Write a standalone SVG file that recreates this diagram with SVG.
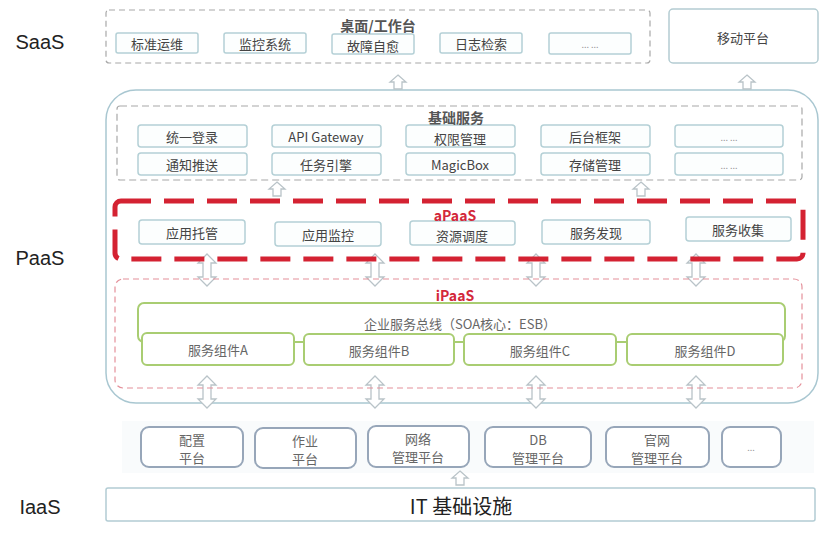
<svg xmlns="http://www.w3.org/2000/svg" xmlns:xlink="http://www.w3.org/1999/xlink" width="823" height="537" viewBox="0 0 823 537">
<style>
text{font-family:"Noto Sans CJK SC","Liberation Sans",sans-serif;dominant-baseline:central;text-anchor:middle}
.lay{font-family:"Liberation Sans","Noto Sans CJK SC",sans-serif;font-size:20px;fill:#222}
.lbl{font-size:13px;fill:#444}
.ttl{font-size:14px;font-weight:bold;fill:#555}
.red{font-size:14px;font-weight:bold;fill:#d3283a}
.bx{fill:#fcfefe;stroke:#b4d0d6;stroke-width:1.5}
.esb{fill:#fff;stroke:#a9cd72;stroke-width:2}
.plat{fill:#fff;stroke:#97a6b9;stroke-width:2}
.arr{fill:#fff;stroke:#b9c3c8;stroke-width:1.3}
.cmp{font-size:13px;fill:#666}
.dots{font-size:9px;fill:#999}
</style>
<defs>
<path id="up" d="M0,0 L8,7 L4,7 L4,14 L-4,14 L-4,7 L-8,7 Z"/>
<path id="dbl" d="M0,0 L9,9 L4,9 L4,23 L9,23 L0,32 L-9,23 L-4,23 L-4,9 L-9,9 Z"/>
</defs>
<rect width="823" height="537" fill="#fff"/>

<g id="layer-labels">
<text class="lay" x="40" y="42">SaaS</text>
<text class="lay" x="40" y="258">PaaS</text>
<text class="lay" x="40" y="507">IaaS</text>
</g>

<g id="paas-container">
<rect x="106" y="90" width="712" height="313" rx="30" fill="#fff" stroke="#a9c7d1" stroke-width="1.5"/>
</g>
<g id="platform-band">
<rect x="122" y="421" width="692" height="52" fill="#f9fbfc"/>
</g>

<g id="connectors" class="arr">
<use xlink:href="#up" x="398" y="75"/>
<use xlink:href="#up" x="747" y="75"/>
<use xlink:href="#up" x="277" y="182"/>
<use xlink:href="#up" x="641" y="182"/>
<use xlink:href="#dbl" x="207" y="254"/>
<use xlink:href="#dbl" x="375" y="254"/>
<use xlink:href="#dbl" x="536" y="254"/>
<use xlink:href="#dbl" x="696" y="254"/>
<use xlink:href="#dbl" x="207" y="376"/>
<use xlink:href="#dbl" x="375" y="376"/>
<use xlink:href="#dbl" x="536" y="376"/>
<use xlink:href="#dbl" x="696" y="376"/>
<use xlink:href="#up" x="460" y="471"/>
<g stroke="#a9cd72" stroke-width="2">
<line x1="294" y1="342" x2="304" y2="342"/>
<line x1="454" y1="342" x2="464" y2="342"/>
<line x1="616" y1="342" x2="627" y2="342"/>
</g>
</g>

<g id="saas">
<rect x="106" y="10" width="544" height="53" rx="3" fill="none" stroke="#a8a8a8" stroke-width="1.2" stroke-dasharray="6 4"/>
<g id="saas-1"><rect class="bx" x="116" y="33" width="82" height="20" rx="2"/><text class="lbl" x="157" y="43">标准运维</text></g>
<g id="saas-2"><rect class="bx" x="224" y="33" width="82" height="20" rx="2"/><text class="lbl" x="265" y="43">监控系统</text></g>
<g id="saas-3"><rect class="bx" x="332" y="34" width="82" height="20" rx="2"/><text class="lbl" x="373" y="45">故障自愈</text></g>
<g id="saas-4"><rect class="bx" x="440" y="33" width="82" height="20" rx="2"/><text class="lbl" x="481" y="43">日志检索</text></g>
<g id="saas-5"><rect class="bx" x="549" y="33" width="82" height="21" rx="2"/><text class="dots" x="590" y="44">... ...</text></g>
<text class="ttl" x="378" y="25">桌面/工作台</text>
</g>

<g id="mobile">
<rect x="669" y="9" width="149" height="54" rx="4" fill="#fff" stroke="#b4ccd2" stroke-width="1.5"/>
<text class="lbl" x="743" y="37">移动平台</text>
</g>

<g id="base-services">
<rect x="117" y="106" width="685" height="74" rx="3" fill="none" stroke="#a8a8a8" stroke-width="1.2" stroke-dasharray="7 4"/>
<g id="bs-1"><rect class="bx" x="138" y="125" width="109" height="22" rx="3"/><text class="lbl" x="192" y="136">统一登录</text></g>
<g id="bs-2"><rect class="bx" x="272" y="125" width="109" height="22" rx="3"/><text class="lbl" x="326" y="136">API Gateway</text></g>
<g id="bs-3"><rect class="bx" x="406" y="125" width="109" height="22" rx="3"/><text class="lbl" x="460" y="138">权限管理</text></g>
<g id="bs-4"><rect class="bx" x="541" y="125" width="109" height="22" rx="3"/><text class="lbl" x="595" y="136">后台框架</text></g>
<g id="bs-5"><rect class="bx" x="675" y="125" width="108" height="22" rx="3"/><text class="dots" x="729" y="137">... ...</text></g>
<g id="bs-6"><rect class="bx" x="138" y="153" width="109" height="22" rx="3"/><text class="lbl" x="192" y="164">通知推送</text></g>
<g id="bs-7"><rect class="bx" x="272" y="153" width="109" height="22" rx="3"/><text class="lbl" x="326" y="164">任务引擎</text></g>
<g id="bs-8"><rect class="bx" x="406" y="153" width="109" height="22" rx="3"/><text class="lbl" x="460" y="164">MagicBox</text></g>
<g id="bs-9"><rect class="bx" x="541" y="153" width="109" height="22" rx="3"/><text class="lbl" x="595" y="164">存储管理</text></g>
<g id="bs-10"><rect class="bx" x="675" y="153" width="108" height="22" rx="3"/><text class="dots" x="729" y="165">... ...</text></g>
<text class="ttl" x="456" y="117">基础服务</text>
</g>

<g id="apaas">
<g id="ap-1"><rect class="bx" x="139" y="220" width="106" height="24" rx="3"/><text class="lbl" x="192" y="232">应用托管</text></g>
<g id="ap-2"><rect class="bx" x="275" y="222" width="106" height="24" rx="3"/><text class="lbl" x="328" y="234">应用监控</text></g>
<g id="ap-3"><rect class="bx" x="410" y="221" width="105" height="24" rx="3"/><text class="lbl" x="462" y="235">资源调度</text></g>
<g id="ap-4"><rect class="bx" x="542" y="220" width="108" height="24" rx="3"/><text class="lbl" x="596" y="232">服务发现</text></g>
<g id="ap-5"><rect class="bx" x="686" y="217" width="105" height="24" rx="3"/><text class="lbl" x="738" y="229">服务收集</text></g>
<rect x="115" y="201" width="688" height="58" rx="6" fill="none" stroke="#d42232" stroke-width="5" stroke-dasharray="30 13"/>
<text class="red" x="455" y="215">aPaaS</text>
</g>

<g id="ipaas">
<rect x="115" y="279" width="687" height="109" rx="8" fill="none" stroke="#e4909a" stroke-width="1.2" stroke-dasharray="6 4"/>
<g id="esb"><rect class="esb" x="138" y="303" width="647" height="39" rx="6"/><text class="cmp" x="460" y="323">企业服务总线（SOA核心：ESB）</text></g>
<text class="red" x="455" y="295">iPaaS</text>
<g id="comp-a"><rect class="esb" x="142" y="333" width="152" height="32" rx="5"/><text class="cmp" x="218" y="349">服务组件A</text></g>
<g id="comp-b"><rect class="esb" x="304" y="334" width="150" height="31" rx="5"/><text class="cmp" x="379" y="350">服务组件B</text></g>
<g id="comp-c"><rect class="esb" x="464" y="334" width="152" height="31" rx="5"/><text class="cmp" x="540" y="350">服务组件C</text></g>
<g id="comp-d"><rect class="esb" x="627" y="334" width="156" height="31" rx="5"/><text class="cmp" x="705" y="350">服务组件D</text></g>
</g>

<g id="platforms">
<g id="pf-1"><rect class="plat" x="141" y="427" width="102" height="40" rx="8"/><text class="cmp" x="192" y="439">配置</text><text class="cmp" x="192" y="457">平台</text></g>
<g id="pf-2"><rect class="plat" x="255" y="428" width="101" height="40" rx="8"/><text class="cmp" x="305" y="440">作业</text><text class="cmp" x="305" y="458">平台</text></g>
<g id="pf-3"><rect class="plat" x="368" y="426" width="101" height="41" rx="8"/><text class="cmp" x="418" y="438">网络</text><text class="cmp" x="418" y="456">管理平台</text></g>
<g id="pf-4"><rect class="plat" x="485" y="427" width="106" height="40" rx="8"/><text class="cmp" x="538" y="439">DB</text><text class="cmp" x="538" y="457">管理平台</text></g>
<g id="pf-5"><rect class="plat" x="606" y="427" width="103" height="40" rx="8"/><text class="cmp" x="657" y="439">官网</text><text class="cmp" x="657" y="457">管理平台</text></g>
<g id="pf-6"><rect class="plat" x="722" y="427" width="59" height="40" rx="8"/><text class="dots" x="751" y="447">...</text></g>
</g>

<g id="it-infra">
<rect x="106" y="488" width="709" height="33" rx="2" fill="#fff" stroke="#b2ccd4" stroke-width="1.5"/>
<text x="461" y="505" style="font-size:20px;fill:#222">IT 基础设施</text>
</g>
</svg>
